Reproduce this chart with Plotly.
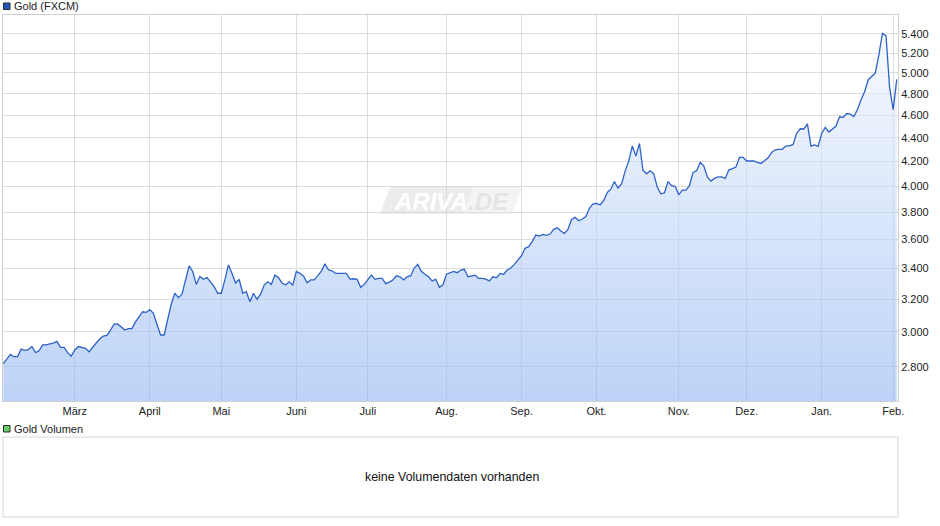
import math
import pandas as pd
import plotly.graph_objects as go

# ---------------- data ----------------
START = "2025-01-31"
END = "2026-02-03"
HOLIDAYS = ["2025-02-17", "2025-04-18", "2025-04-21", "2025-05-26", "2025-06-19",
            "2025-07-04", "2025-09-01", "2025-11-27", "2025-12-25", "2025-12-26",
            "2026-01-01", "2026-01-19"]

PRICE = [
    2818, 2845, 2870, 2857, 2858, 2900, 2893, 2897, 2915, 2880,
    2891, 2925, 2925, 2930, 2935, 2945, 2910, 2910, 2880, 2860,
    2895, 2915, 2910, 2905, 2885, 2910, 2930, 2960, 2975, 2980,
    3011, 3047, 3048, 3030, 3011, 3020, 3020, 3060, 3090, 3122,
    3118, 3135, 3112, 3041, 2982, 2982, 3081, 3170, 3238, 3210,
    3232, 3330, 3418, 3380, 3295, 3347, 3328, 3340, 3310, 3280,
    3238, 3238, 3324, 3425, 3367, 3304, 3328, 3238, 3248, 3185,
    3238, 3200, 3232, 3291, 3312, 3295, 3356, 3340, 3304, 3291,
    3312, 3291, 3380, 3368, 3350, 3306, 3324, 3324, 3352, 3383,
    3432, 3390, 3385, 3367, 3367, 3367, 3367, 3330, 3332, 3328,
    3276, 3295, 3328, 3356, 3328, 3335, 3335, 3300, 3310, 3324,
    3352, 3345, 3324, 3345, 3352, 3403, 3428, 3380, 3362, 3345,
    3318, 3328, 3276, 3291, 3362, 3372, 3380, 3372, 3390, 3395,
    3345, 3350, 3356, 3335, 3335, 3330, 3318, 3345, 3338, 3367,
    3362, 3390, 3403, 3428, 3457, 3487, 3538, 3550, 3585, 3632,
    3625, 3637, 3630, 3639, 3673, 3685, 3661, 3644, 3673, 3746,
    3761, 3736, 3749, 3766, 3829, 3862, 3865, 3854, 3887, 3950,
    3976, 4036, 3985, 4017, 4120, 4202, 4329, 4244, 4351, 4126,
    4098, 4123, 4098, 3991, 3940, 3947, 4036, 4004, 3998, 3932,
    3969, 3969, 4004, 4109, 4123, 4191, 4163, 4073, 4040, 4061,
    4073, 4073, 4061, 4129, 4140, 4153, 4234, 4234, 4203, 4203,
    4203, 4191, 4183, 4205, 4230, 4275, 4297, 4301, 4301, 4331,
    4331, 4343, 4440, 4479, 4477, 4523, 4329, 4338, 4326, 4440,
    4492, 4451, 4474, 4503, 4586, 4580, 4616, 4610, 4589, 4652,
    4741, 4819, 4932, 4970, 5000, 5181, 5407, 5379, 4857, 4652,
    4938,
]

MONTH_LABELS = {1: "Jan.", 2: "Feb.", 3: "März", 4: "April", 5: "Mai", 6: "Juni",
                7: "Juli", 8: "Aug.", 9: "Sep.", 10: "Okt.", 11: "Nov.", 12: "Dez."}
Y_TICKS = [2800, 3000, 3200, 3400, 3600, 3800, 4000, 4200, 4400, 4600, 4800, 5000, 5200, 5400]
Y_RANGE = [2618, 5606]

SERIES_NAME = "Gold (FXCM)"
VOLUME_NAME = "Gold Volumen"
NO_VOLUME = "keine Volumendaten vorhanden"
WATERMARK = ("ARIVA", ".DE")

# ---------------- build ----------------
dates = pd.bdate_range(START, END, freq="C", holidays=HOLIDAYS)
n = min(len(dates), len(PRICE))
x = [d.strftime("%Y-%m-%d") for d in dates[:n]]
y = PRICE[:n]

# month-start ticks (skip the partial month at the very beginning)
tickvals, ticktext = [], []
for i in range(1, n):
    if dates[i].month != dates[i - 1].month and i > 5:
        tickvals.append(x[i])
        ticktext.append(MONTH_LABELS[dates[i].month])

W, H = 940, 526
def px(v):
    return v / W
def py(v):
    return 1 - v / H

FONT = "Liberation Sans, Arial, sans-serif"
GRID = "#dcdcdc"

fig = go.Figure()
# baseline at the bottom of the value range so the area has a finite extent
fig.add_trace(go.Scatter(
    x=x, y=[Y_RANGE[0]] * n, mode="lines", line=dict(width=0, color="rgba(0,0,0,0)"),
    hoverinfo="skip", showlegend=False,
))
fig.add_trace(go.Scatter(
    x=x, y=y, mode="lines",
    line=dict(color="rgb(45,98,200)", width=1.3),
    fill="tonexty",
    fillgradient=dict(type="vertical",
                      colorscale=[[0, "rgba(148,184,242,0.62)"], [1, "rgba(242,246,254,0.62)"]]),
    hoverinfo="x+y", showlegend=False,
))

fig.update_layout(
    width=W, height=H, autosize=False,
    margin=dict(l=0, r=0, t=0, b=0, pad=0),
    paper_bgcolor="white", plot_bgcolor="white",
    separators=",.",
    font=dict(family=FONT, size=11, color="#222222"),
    xaxis=dict(
        type="category", domain=[px(3), px(898)],
        range=[-0.08, n - 1 + 0.35], automargin=False,
        tickmode="array", tickvals=tickvals, ticktext=ticktext,
        showgrid=True, gridcolor=GRID, gridwidth=1,
        showline=True, linecolor="#cfcfcf", linewidth=1, mirror=True,
        ticks="", tickfont=dict(size=11, color="#222222"),
        zeroline=False, fixedrange=True,
    ),
    yaxis=dict(
        type="log", domain=[py(401), py(15)], automargin=False,
        range=[math.log10(Y_RANGE[0]), math.log10(Y_RANGE[1])],
        side="right", tickmode="array", tickvals=Y_TICKS, tickformat=",d",
        showgrid=True, gridcolor=GRID, gridwidth=1,
        showline=True, linecolor="#cfcfcf", linewidth=1, mirror=True,
        ticks="", tickfont=dict(size=11, color="#222222"),
        zeroline=False, fixedrange=True,
    ),
)

shapes = [
    # legend squares
    dict(type="rect", xref="paper", yref="paper", x0=px(3.5), x1=px(10), y0=py(9.5), y1=py(3),
         fillcolor="#1f55c0", line=dict(color="#2a2a2a", width=1)),
    dict(type="rect", xref="paper", yref="paper", x0=px(3.5), x1=px(10), y0=py(432), y1=py(425.5),
         fillcolor="#66cc66", line=dict(color="#2a2a2a", width=1)),
    # volume panel frame
    dict(type="rect", xref="paper", yref="paper", x0=px(3), x1=px(898), y0=py(517), y1=py(437),
         fillcolor="rgba(0,0,0,0)", line=dict(color="#d6d6d6", width=1)),
    # watermark plates
    dict(type="path", xref="paper", yref="paper",
         path=f"M {px(380)},{py(214)} L {px(390)},{py(187)} L {px(474)},{py(187)} L {px(464)},{py(214)} Z",
         fillcolor="#ececec", line=dict(width=0), layer="below"),
    dict(type="path", xref="paper", yref="paper",
         path=f"M {px(464)},{py(214)} L {px(474)},{py(187)} L {px(522)},{py(187)} L {px(512)},{py(214)} Z",
         fillcolor="#f4f4f4", line=dict(width=0), layer="below"),
]

annotations = [
    dict(text=SERIES_NAME, xref="paper", yref="paper", x=px(11.5), y=py(6),
         xanchor="left", yanchor="middle", showarrow=False,
         font=dict(family=FONT, size=11, color="#222222")),
    dict(text=VOLUME_NAME, xref="paper", yref="paper", x=px(11.5), y=py(428.5),
         xanchor="left", yanchor="middle", showarrow=False,
         font=dict(family=FONT, size=11, color="#222222")),
    dict(text=NO_VOLUME, xref="paper", yref="paper", x=px(452), y=py(477),
         xanchor="center", yanchor="middle", showarrow=False,
         font=dict(family=FONT, size=12.4, color="#111111")),
    dict(text=WATERMARK[0], xref="paper", yref="paper", x=px(470), y=py(201),
         xanchor="right", yanchor="middle", showarrow=False,
         font=dict(family=FONT, size=24, color="#ffffff", weight="bold", style="italic")),
    dict(text=WATERMARK[1], xref="paper", yref="paper", x=px(466), y=py(201),
         xanchor="left", yanchor="middle", showarrow=False,
         font=dict(family=FONT, size=24, color="#e4e4e4", weight="bold", style="italic")),
]

fig.update_layout(shapes=shapes, annotations=annotations)
fig.write_html(
    "out.html",
    config={"displayModeBar": False},
    post_script="document.body.style.margin='0';document.body.style.padding='0';",
)
